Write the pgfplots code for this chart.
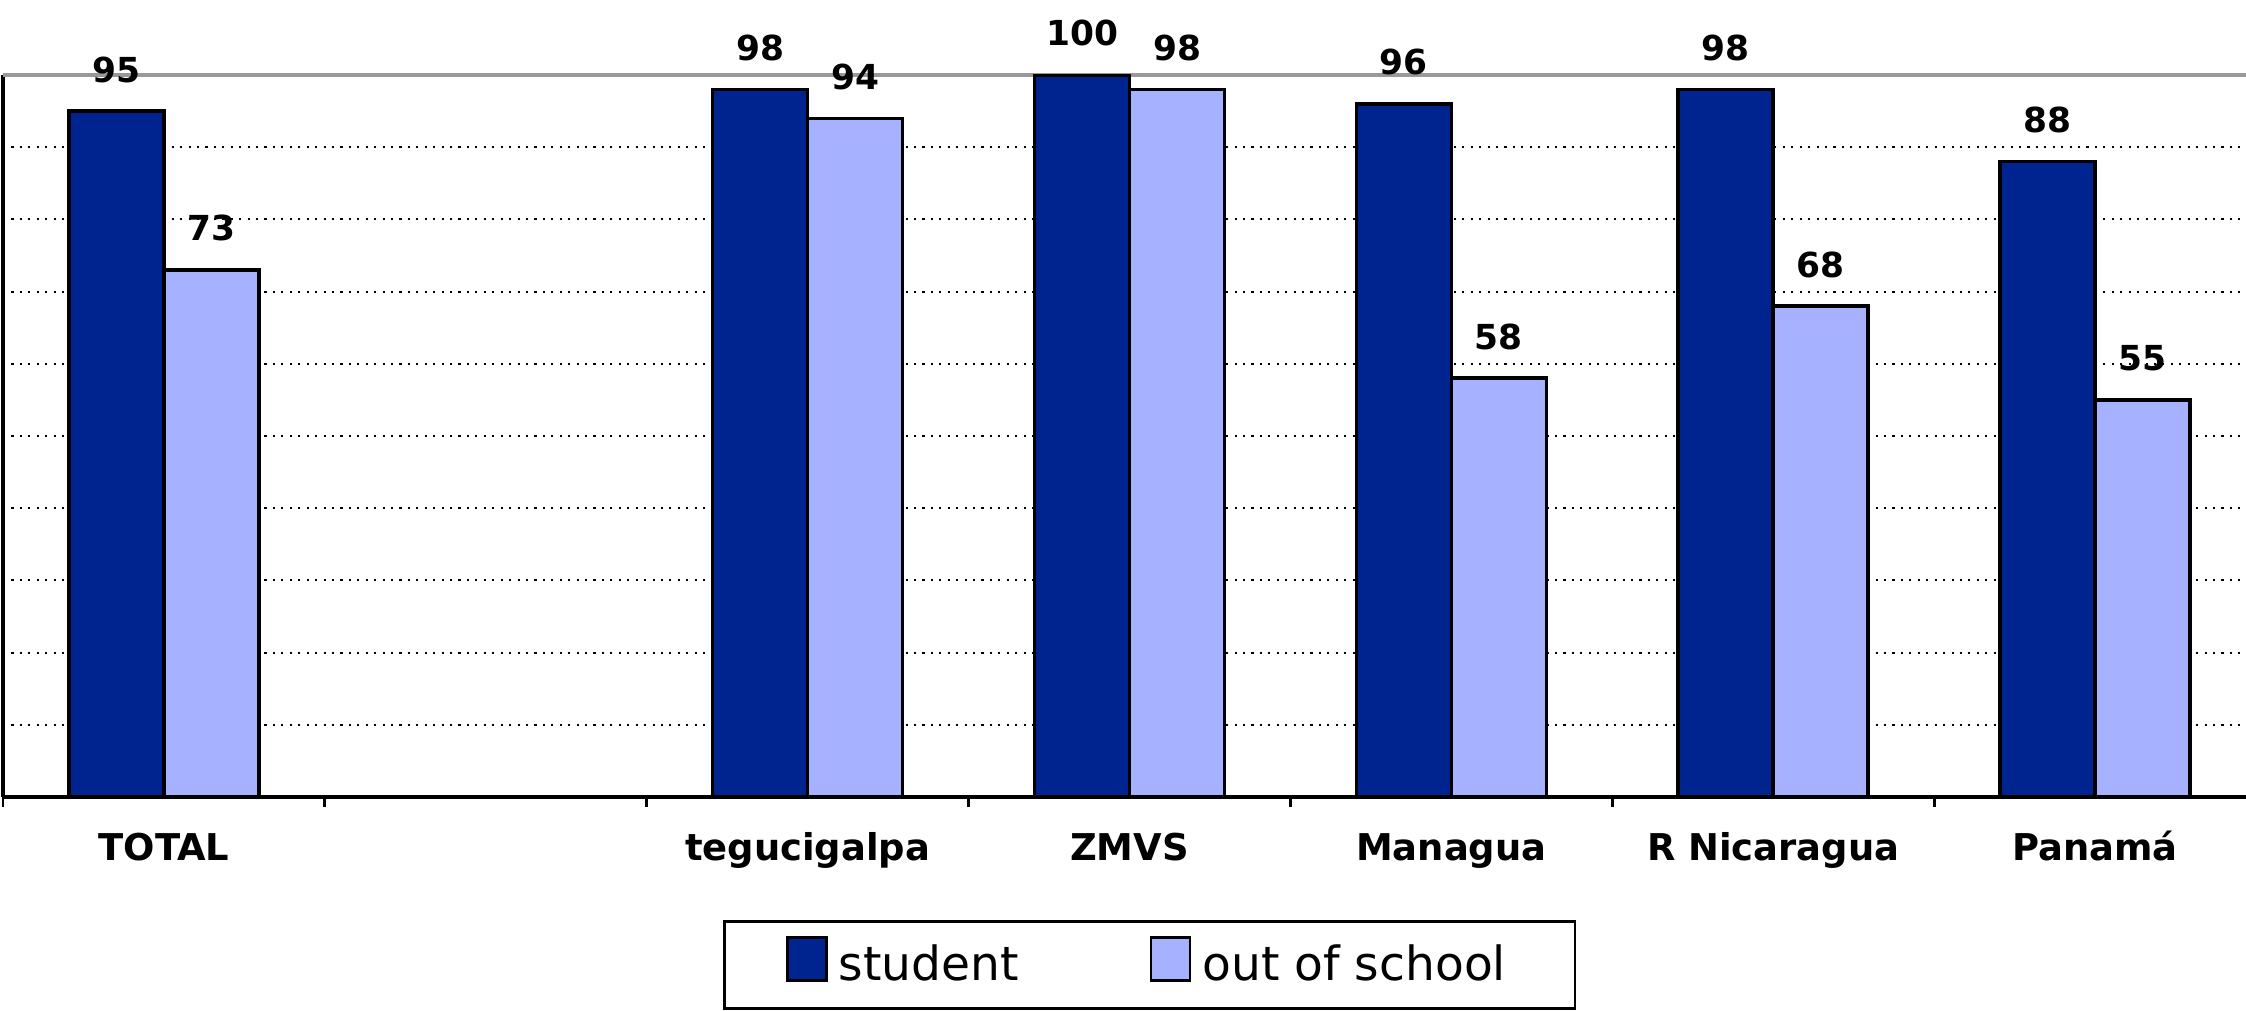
\documentclass[border=0pt]{standalone}
\usepackage{fontspec}
\setmainfont{DejaVu Sans}
\usepackage{pgfplots}
\pgfplotsset{compat=1.18}
\definecolor{stud}{RGB}{0,36,143}
\definecolor{outs}{RGB}{166,178,255}

\begin{document}
\begin{tikzpicture}
\begin{axis}[name=ax,
    width=22.53cm, height=7.22cm, scale only axis,
    xmin=-0.5, xmax=6.5, ymin=0, ymax=100,
    axis x line*=bottom, axis y line*=left,
    axis line style={black, line width=0.9pt},
    /pgf/number format/assume math mode=true,
    ybar=0pt, bar width=0.95cm,
    ytick={0,10,...,90}, ymajorticks=false,
    ymajorgrids, major grid style={black, line width=0.6pt, dash pattern=on 0.6pt off 1.8pt},
    extra y ticks={100}, extra y tick labels={},
    extra y tick style={grid=major, major grid style={gray!80, line width=1.4pt, solid}},
    xtick={0,...,6},
    xticklabels={TOTAL,,tegucigalpa,ZMVS,Managua,R Nicaragua,Panamá},
    major x tick style={draw=none},
    minor xtick={-0.5,0.5,...,6.5},
    tick align=outside, major tick length=0.1cm, minor tick length=0.1cm,
    tick style={black, line width=0.8pt},
    xticklabel style={font=\bfseries\fontsize{10.5}{12}\selectfont, anchor=base, yshift=-0.53cm},
    nodes near coords,
    every node near coord/.append style={font=\bfseries\fontsize{9.8}{12}\selectfont, anchor=base, yshift=0.29cm, black},
    legend columns=2,
    legend style={at={(axis description cs:0.3196,-0.1704)}, anchor=north west,
        draw=black, line width=0.8pt, font=\fontsize{13.4}{16}\selectfont,
        inner xsep=0.62cm, inner ysep=0.15cm,
        /tikz/every odd column/.append style={column sep=0.04cm},
        /tikz/every even column/.append style={column sep=1.24cm}},
    legend image code/.code={\draw[#1, line width=0.7pt] (0cm,-0.15cm) rectangle (0.39cm,0.28cm);},
  ]
\addplot[fill=stud, draw=black, line width=1pt] coordinates {(0,95) (2,98) (3,100) (4,96) (5,98) (6,88)};
\addplot[fill=outs, draw=black, line width=1pt] coordinates {(0,73) (2,94) (3,98) (4,58) (5,68) (6,55)};
\legend{student, out of school}
\end{axis}
\pgfresetboundingbox
\path[use as bounding box] ([xshift=-0.03cm,yshift=-2.14cm]ax.south west) rectangle ([xshift=22.43cm,yshift=0.75cm]ax.north west);
\end{tikzpicture}
\end{document}
